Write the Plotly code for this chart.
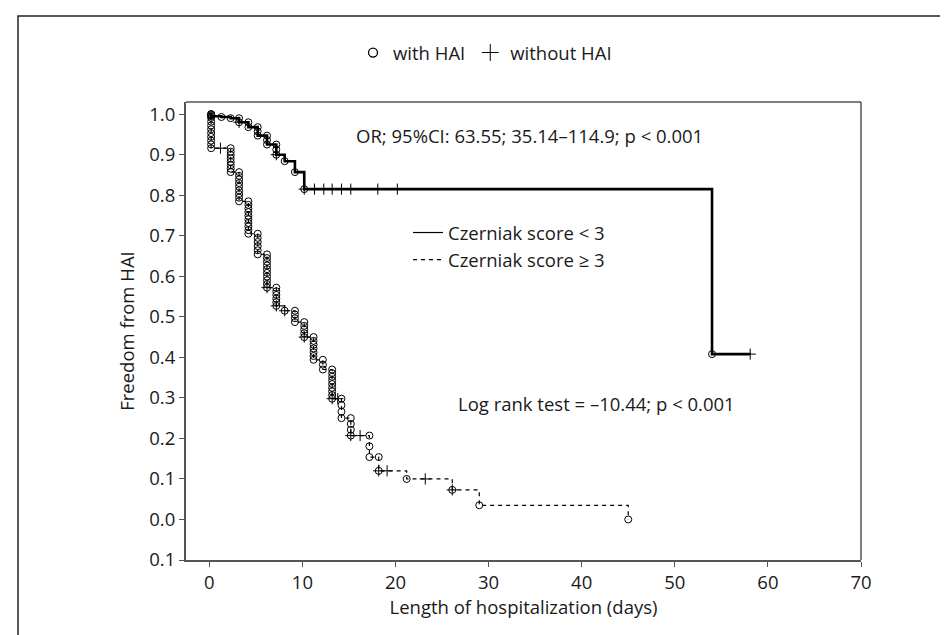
import numpy as np
import plotly.graph_objects as go

# ---------------- data ----------------
# Czerniak score < 3
g1_event_days = [0.2, 1.3, 2.3, 3.2, 4.2, 5.2, 6.2, 7.2, 8.1, 9.2, 10.2, 54.0]
g1_surv = [0.995, 0.993, 0.990, 0.980, 0.968, 0.947, 0.925, 0.900, 0.884, 0.857, 0.815, 0.408]
g1_n_events = [3, 1, 1, 2, 2, 3, 3, 3, 1, 1, 1, 1]
g1_censor_days = [3.2, 7.2, 10.2, 11.3, 12.3, 13.2, 14.2, 15.2, 18.1, 20.2, 58.1]
g1_last_day = 58.1

# Czerniak score >= 3
g2_event_days = [0.2, 2.3, 3.2, 4.2, 5.2, 6.2, 7.2, 8.1, 9.2, 10.2, 11.2, 12.2, 13.2, 14.2,
                 15.2, 17.2, 18.2, 21.2, 26.1, 29.0, 45.0]
g2_surv = [0.916, 0.857, 0.785, 0.705, 0.654, 0.572, 0.527, 0.515, 0.487, 0.450, 0.394, 0.370,
           0.298, 0.250, 0.207, 0.154, 0.120, 0.100, 0.073, 0.035, 0.000]
g2_n_events = [10, 8, 9, 10, 6, 10, 6, 1, 4, 5, 7, 3, 9, 4, 4, 3, 2, 1, 1, 1, 1]
g2_censor_days = [1.2, 6.2, 7.2, 8.1, 10.2, 13.2, 13.8, 15.2, 16.2, 18.2, 19.1, 23.2, 26.1]
g2_last_day = 45.0

y_tickvals = [1.0, 0.9, 0.8, 0.7, 0.6, 0.5, 0.4, 0.3, 0.2, 0.1, 0.0, -0.1]
y_ticktext = ["1.0", "0.9", "0.8", "0.7", "0.6", "0.5", "0.4", "0.3", "0.2", "0.1", "0.0", "0.1"]
x_tickvals = [0, 10, 20, 30, 40, 50, 60, 70]

FONT = "Open Sans"
FS = 18.5


def step_xy(days, surv, last_day):
    x = [0.0] + list(days)
    y = [1.0] + list(surv)
    if last_day > x[-1]:
        x.append(last_day)
        y.append(y[-1])
    return x, y


def event_points(days, surv, counts):
    xs, ys = [], []
    prev = 1.0
    for d, s, n in zip(days, surv, counts):
        if n == 1:
            lv = [s]
        else:
            lv = list(np.linspace(prev, s, n))
        xs += [d] * len(lv)
        ys += lv
        prev = s
    return xs, ys


def censor_points(days, surv, cdays):
    d = np.array(days)
    ys = []
    for c in cdays:
        i = np.searchsorted(d, c + 1e-9) - 1
        ys.append(1.0 if i < 0 else surv[i])
    return list(cdays), ys


fig = go.Figure()

# curves
for name, days, surv, last, width, dash in [
    ("Czerniak score < 3", g1_event_days, g1_surv, g1_last_day, 2.6, "solid"),
    ("Czerniak score ≥ 3", g2_event_days, g2_surv, g2_last_day, 1.2, "4px,4px"),
]:
    x, y = step_xy(days, surv, last)
    fig.add_trace(go.Scatter(x=x, y=y, mode="lines", name=name, showlegend=False,
                             line=dict(color="black", width=width, dash=dash, shape="hv"),
                             hoverinfo="skip"))

# event circles
for days, surv, cnt in [(g1_event_days, g1_surv, g1_n_events),
                        (g2_event_days, g2_surv, g2_n_events)]:
    ex, ey = event_points(days, surv, cnt)
    fig.add_trace(go.Scatter(x=ex, y=ey, mode="markers", name="with HAI", showlegend=False,
                             marker=dict(symbol="circle-open", size=7, color="black",
                                         line=dict(width=1, color="black"))))

# censor marks
for days, surv, cd in [(g1_event_days, g1_surv, g1_censor_days),
                       (g2_event_days, g2_surv, g2_censor_days)]:
    cx, cy = censor_points(days, surv, cd)
    fig.add_trace(go.Scatter(x=cx, y=cy, mode="markers", name="without HAI", showlegend=False,
                             marker=dict(symbol="cross-thin", size=8, color="black",
                                         line=dict(width=1, color="black"))))

# legend-only entries
fig.add_trace(go.Scatter(x=[None], y=[None], mode="markers", name="with HAI", legend="legend",
                         marker=dict(symbol="circle-open", size=9, color="black",
                                     line=dict(width=1.3, color="black"))))
fig.add_trace(go.Scatter(x=[None], y=[None], mode="markers", name="without HAI", legend="legend",
                         marker=dict(symbol="cross-thin", size=12, color="black",
                                     line=dict(width=1, color="black"))))
fig.add_trace(go.Scatter(x=[None], y=[None], mode="lines", name="Czerniak score < 3",
                         legend="legend2", line=dict(color="black", width=1.2)))
fig.add_trace(go.Scatter(x=[None], y=[None], mode="lines", name="Czerniak score ≥ 3",
                         legend="legend2", line=dict(color="black", width=1.2, dash="4px,4px")))

# layout geometry (pixels)
W, H = 948, 635
L, R, T, B = 178, 95, 94, 83
pw, ph = W - L - R, H - T - B


def px(xp):
    return (xp - L) / pw


def py(yp):
    return (H - B - yp) / ph


fig.update_layout(
    width=W, height=H,
    margin=dict(l=L, r=R, t=T, b=B),
    paper_bgcolor="white", plot_bgcolor="white",
    font=dict(family=FONT, size=FS, color="#1a1a1a"),
    showlegend=True,
    legend=dict(orientation="h", x=px(345), y=py(45), xanchor="left", yanchor="middle",
                font=dict(size=FS), bgcolor="rgba(0,0,0,0)", itemwidth=30),
    legend2=dict(orientation="v", x=px(400), y=py(206), xanchor="left", yanchor="top",
                 font=dict(size=FS), bgcolor="rgba(0,0,0,0)", tracegroupgap=0, itemwidth=30),
    xaxis=dict(range=[-2.5, 70], tickvals=x_tickvals, showgrid=False, zeroline=False,
               showline=True, linecolor="#555", linewidth=2, ticks="outside", ticklen=5,
               tickcolor="#555", tickfont=dict(size=FS),
               title=dict(text="Length of hospitalization (days)", font=dict(size=FS), standoff=4)),
    yaxis=dict(range=[-0.1, 1.03], tickvals=y_tickvals, ticktext=y_ticktext, showgrid=False,
               zeroline=False, showline=True, linecolor="#555", linewidth=2, ticks="outside",
               ticklen=5, tickcolor="#555", tickfont=dict(size=FS),
               title=dict(text="Freedom from HAI", font=dict(size=FS), standoff=10)),
    shapes=[
        dict(type="line", xref="paper", yref="paper", x0=0, x1=1, y0=1, y1=1,
             line=dict(color="black", width=1)),
        dict(type="line", xref="paper", yref="paper", x0=1, x1=1, y0=0, y1=1,
             line=dict(color="black", width=1)),
        dict(type="rect", xref="paper", yref="paper", x0=px(10), x1=px(940), y0=py(645), y1=py(8),
             line=dict(color="#222", width=1.5), fillcolor="rgba(0,0,0,0)", layer="below"),
    ],
    annotations=[
        dict(text="OR; 95%CI: 63.55; 35.14–114.9; p < 0.001", x=15.5, y=0.948,
             xref="x", yref="y", xanchor="left", yanchor="middle", showarrow=False,
             font=dict(size=FS)),
        dict(text="Log rank test = –10.44; p < 0.001", x=26.5, y=0.286,
             xref="x", yref="y", xanchor="left", yanchor="middle", showarrow=False,
             font=dict(size=FS)),
    ],
)

fig.write_html("out.html")
